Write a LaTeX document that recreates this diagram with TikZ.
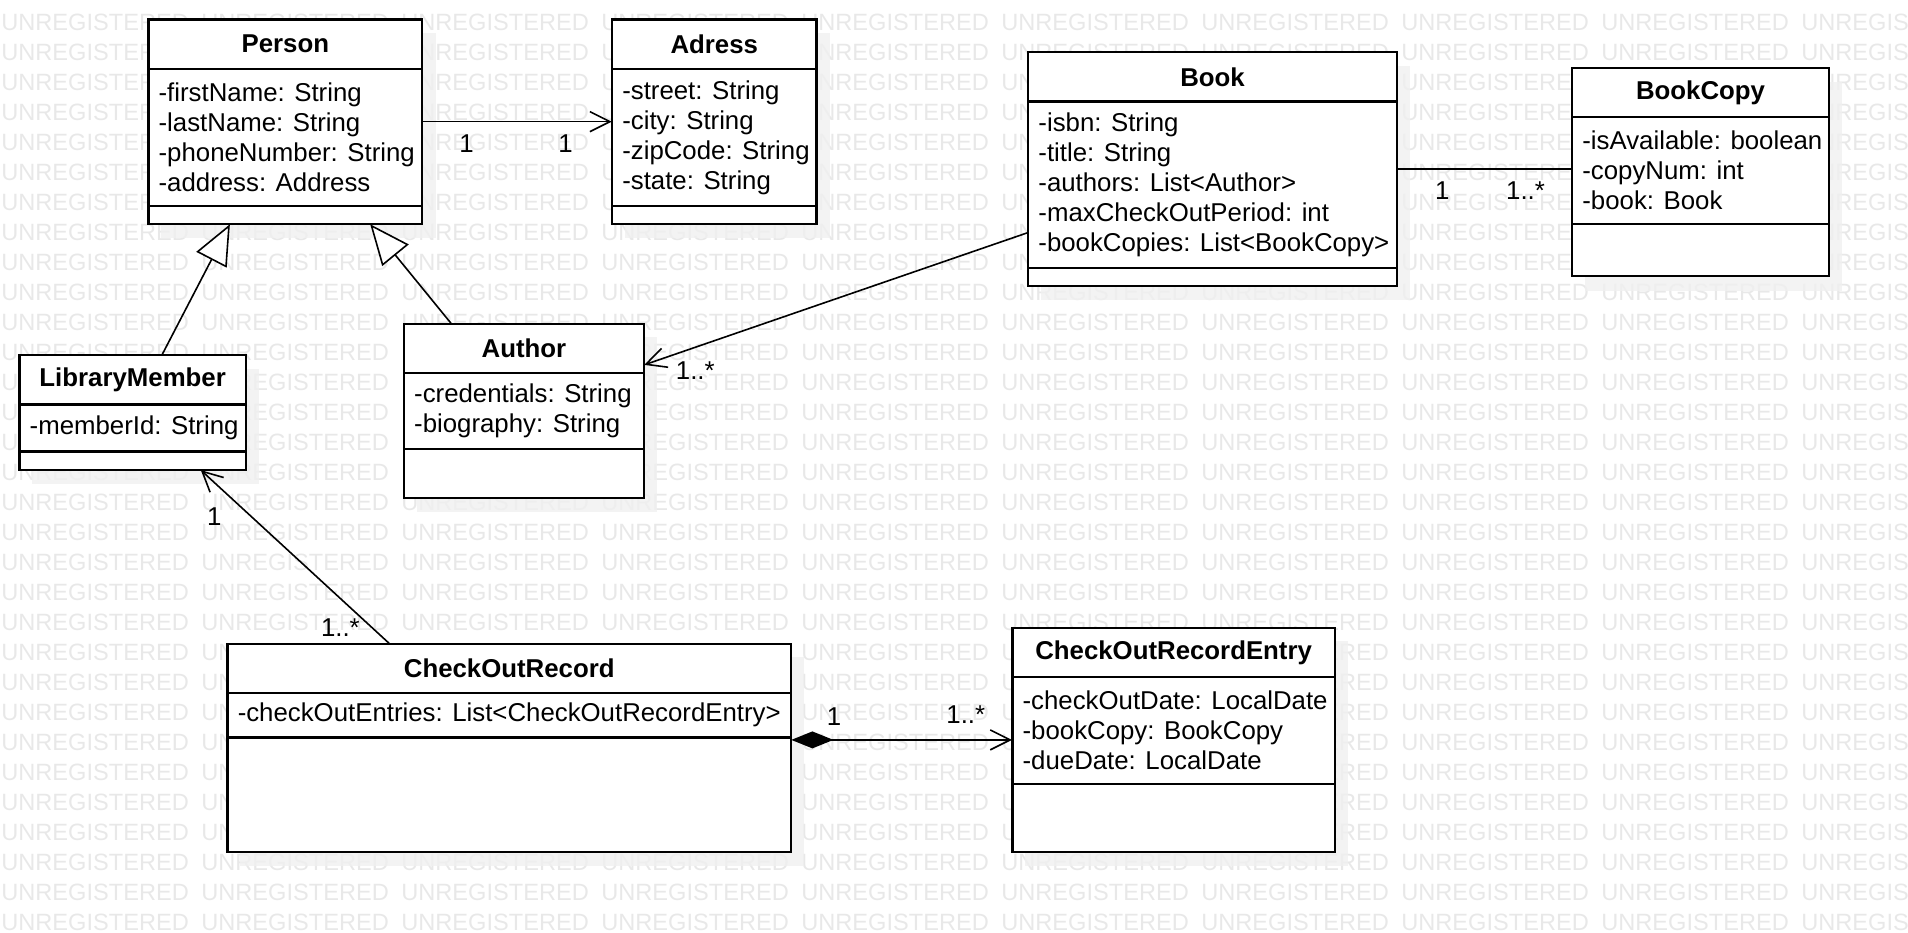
\documentclass[tikz,border=0pt]{standalone}
\usepackage{fontspec}
\setmainfont{Liberation Sans}
\usetikzlibrary{positioning,arrows.meta,backgrounds,fit,calc}

\begin{document}
\begin{tikzpicture}[
    x=0.6084pt, y=-0.6084pt,
    font=\fontsize{12.9}{15}\selectfont,
    box/.style        = {draw, fill=white, line width=1.1pt, outer sep=0pt, inner sep=0pt},
    ctitle/.style     = {box, minimum height=24.6pt, font=\fontsize{12.9}{15}\selectfont\bfseries},
    cpart/.style      = {box},
    atext/.style      = {anchor=west, align=left, inner xsep=4.9pt, inner ysep=0pt},
    shadowfill/.style = {fill=black!6, fill opacity=0.8},
    wmark/.style      = {anchor=west, inner sep=0pt, text=black!9, font=\fontsize{11.8}{14}\selectfont},
    mult/.style       = {inner sep=0pt},
    assoc/.style      = {-{Straight Barb[length=10pt, width=10pt]}, line width=0.8pt},
    plainline/.style  = {line width=0.8pt},
    inherit/.style    = {-{Triangle[length=20pt, width=17pt, fill=white]}, line width=0.8pt},
    compose/.style    = {{Diamond[length=21pt, width=8.5pt]}-{Straight Barb[length=10pt, width=10pt]}, line width=0.8pt}
]
\useasboundingbox (0,0) rectangle (1568,766);

% WATERMARK
\begin{scope}[on background layer]
  \clip (0,0) rectangle (1568,766);
  \foreach \r in {0,...,30}{
    \node[wmark] (wm\r) at (0.8, 18.65+\r*24.65) {\foreach \c in {1,...,10}{\makebox[100pt][l]{UNREGISTERED}}};
  }
\end{scope}

% PERSON
\node[ctitle, minimum width=136.9pt, anchor=north west] (person-t) at (122,16) {Person};
\node[cpart, minimum width=136.9pt, minimum height=68.7pt, below=0pt of person-t] (person-a) {};
\node[atext] (person-x) at (person-a.west) {-firstName: String\\-lastName: String\\-phoneNumber: String\\-address: Address};
\node[cpart, minimum width=136.9pt, minimum height=8.9pt, below=0pt of person-a] (person-m) {};
\node[fit=(person-t)(person-m), inner sep=0pt] (person) {};

% ADRESS
\node[ctitle, minimum width=102.2pt, anchor=north west] (adress-t) at (503,16) {Adress};
\node[cpart, minimum width=102.2pt, minimum height=68.7pt, below=0pt of adress-t] (adress-a) {};
\node[atext] (adress-x) at (adress-a.west) {-street: String\\-city: String\\-zipCode: String\\-state: String};
\node[cpart, minimum width=102.2pt, minimum height=8.9pt, below=0pt of adress-a] (adress-m) {};
\node[fit=(adress-t)(adress-m), inner sep=0pt] (adress) {};

% BOOK
\node[ctitle, minimum width=184.3pt, anchor=north west] (book-t) at (845,43) {Book};
\node[cpart, minimum width=184.3pt, minimum height=83.1pt, below=0pt of book-t] (book-a) {};
\node[atext] (book-x) at (book-a.west) {-isbn: String\\-title: String\\-authors: List<Author>\\-maxCheckOutPeriod: int\\-bookCopies: List<BookCopy>};
\node[cpart, minimum width=184.3pt, minimum height=9.1pt, below=0pt of book-a] (book-m) {};
\node[fit=(book-t)(book-m), inner sep=0pt] (book) {};

% BOOKCOPY
\node[ctitle, minimum width=128.4pt, anchor=north west] (bookcopy-t) at (1292,56) {BookCopy};
\node[cpart, minimum width=128.4pt, minimum height=53.3pt, below=0pt of bookcopy-t] (bookcopy-a) {};
\node[atext] (bookcopy-x) at (bookcopy-a.west) {-isAvailable: boolean\\-copyNum: int\\-book: Book};
\node[cpart, minimum width=128.4pt, minimum height=26.2pt, below=0pt of bookcopy-a] (bookcopy-m) {};
\node[fit=(bookcopy-t)(bookcopy-m), inner sep=0pt] (bookcopy) {};

% LIBRARYMEMBER
\node[ctitle, minimum width=113.2pt, anchor=north west] (member-t) at (16,292) {LibraryMember};
\node[cpart, minimum width=113.2pt, minimum height=23.5pt, below=0pt of member-t] (member-a) {};
\node[atext] (member-x) at (member-a.west) {-memberId: String};
\node[cpart, minimum width=113.2pt, minimum height=9.1pt, below=0pt of member-a] (member-m) {};
\node[fit=(member-t)(member-m), inner sep=0pt] (member) {};

% AUTHOR
\node[ctitle, minimum width=119.9pt, anchor=north west] (author-t) at (332,266) {Author};
\node[cpart, minimum width=119.9pt, minimum height=38.1pt, below=0pt of author-t] (author-a) {};
\node[atext] (author-x) at (author-a.west) {-credentials: String\\-biography: String};
\node[cpart, minimum width=119.9pt, minimum height=24.3pt, below=0pt of author-a] (author-m) {};
\node[fit=(author-t)(author-m), inner sep=0pt] (author) {};

% CHECKOUTRECORD
\node[ctitle, minimum width=281.7pt, anchor=north west] (cor-t) at (187,529) {CheckOutRecord};
\node[cpart, minimum width=281.7pt, minimum height=22.3pt, below=0pt of cor-t] (cor-a) {};
\node[atext] (cor-x) at (cor-a.west) {-checkOutEntries: List<CheckOutRecordEntry>};
\node[cpart, minimum width=281.7pt, minimum height=57.2pt, below=0pt of cor-a] (cor-m) {};
\node[fit=(cor-t)(cor-m), inner sep=0pt] (cor) {};

% CHECKOUTRECORDENTRY
\node[ctitle, minimum width=161.2pt, anchor=north west] (entry-t) at (832,516) {CheckOutRecordEntry};
\node[cpart, minimum width=161.2pt, minimum height=53.3pt, below=0pt of entry-t] (entry-a) {};
\node[atext] (entry-x) at (entry-a.west) {-checkOutDate: LocalDate\\-bookCopy: BookCopy\\-dueDate: LocalDate};
\node[cpart, minimum width=161.2pt, minimum height=34.1pt, below=0pt of entry-a] (entry-m) {};
\node[fit=(entry-t)(entry-m), inner sep=0pt] (entry) {};

% SHADOWS
\begin{scope}[on background layer]
  \foreach \c in {person,adress,book,bookcopy,member,author,cor,entry}{
    \fill[shadowfill] ($(\c.north west)+(10.7,11.5)$) rectangle ($(\c.south east)+(10.7,11.5)$);
  }
\end{scope}

% ASSOCIATIONS
\draw[assoc] (person.east) -- (adress.west);
\node[mult] (pa-1) at ($(person.east)+(36,18)$) {1};
\node[mult] (pa-2) at ($(adress.west)+(-38,18)$) {1};

\draw[plainline] (book.east) -- (book.east -| bookcopy.west);
\node[mult] (bc-1) at ($(book.east)+(37,18)$) {1};
\node[mult] (bc-n) at ($(book.east -| bookcopy.west)+(-38,18)$) {1..*};

\coordinate (ba-s) at ($(book.south west)!.229!(book.north west)$);
\coordinate (ba-e) at ($(author.north east)!.238!(author.south east)$);
\draw[assoc] (ba-s) -- (ba-e);
\node[mult] (ba-n) at ($(ba-e)+(42,5)$) {1..*};

\coordinate (cm-s) at ($(cor.north west)!.287!(cor.north east)$);
\coordinate (cm-e) at ($(member.south west)!.80!(member.south east)$);
\draw[assoc] (cm-s) -- (cm-e);
\node[mult] (cm-1) at ($(cm-e)+(11,38)$) {1};
\node[mult] (cm-n) at ($(cm-s)+(-40,-13)$) {1..*};

% COMPOSITION
\draw[compose] (cor.east |- entry.west) -- (entry.west);
\node[mult] (ce-1) at ($(cor.east |- entry.west)+(35,-19)$) {1};
\node[mult] (ce-n) at ($(entry.west)+(-38,-21)$) {1..*};

% GENERALIZATIONS
\draw[inherit] ($(member.north west)!.629!(member.north east)$) -- ($(person.south west)!.298!(person.south east)$);
\draw[inherit] ($(author.north west)!.197!(author.north east)$) -- ($(person.south west)!.809!(person.south east)$);

\end{tikzpicture}
\end{document}
